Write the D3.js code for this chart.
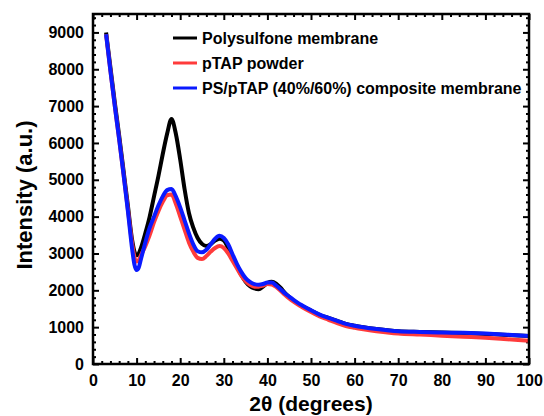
<!DOCTYPE html>
<html>
<head>
<meta charset="utf-8">
<script src="https://cdn.jsdelivr.net/npm/d3@7"></script>
<style>
  body { margin: 0; background: #fff; }
  text { font-family: "Liberation Sans", Arial, sans-serif; font-weight: bold; }
</style>
</head>
<body>
<div id="chart"></div>
<script>
// data
var twoTheta = [3, 4, 5, 6, 7, 8, 9, 9.5, 10, 10.5, 11, 12, 13, 14, 15, 16, 17, 18, 19, 20, 21, 22, 23, 24, 25, 26,
    27, 28, 29, 30, 31, 32, 33, 34, 35, 36, 37, 38, 39, 40, 41, 42, 43, 44, 45, 46, 47, 48, 50, 52, 54, 56, 58,
    60, 62, 65, 68, 70, 75, 80, 85, 90, 95, 100];

var polysulfone = [9000, 8050, 7100, 6200, 5250, 4300, 3350, 3050, 2950, 3000, 3150, 3550, 4000, 4550, 5100, 5700,
    6250, 6650, 6250, 5550, 4750, 4100, 3700, 3420, 3260, 3200, 3250, 3350, 3400, 3350, 3150, 2900, 2650, 2420,
    2230, 2110, 2050, 2030, 2100, 2200, 2230, 2180, 2070, 1930, 1820, 1720, 1640, 1570, 1450, 1330, 1250, 1170,
    1090, 1040, 1000, 950, 910, 890, 870, 855, 840, 815, 790, 760];

var ptapPowder = [8950, 7950, 7000, 6100, 5150, 4200, 3250, 2900, 2780, 2820, 2950, 3200, 3500, 3850, 4150, 4400,
    4580, 4600, 4350, 4000, 3650, 3300, 3050, 2880, 2850, 2930, 3050, 3150, 3200, 3150, 3000, 2800, 2600, 2400,
    2250, 2150, 2100, 2100, 2130, 2170, 2160, 2090, 1990, 1880, 1780, 1690, 1610, 1540, 1410, 1290, 1200, 1110,
    1030, 980, 940, 890, 850, 830, 800, 770, 740, 710, 670, 630];

var composite = [8950, 7950, 7000, 6100, 5150, 4150, 3100, 2700, 2550, 2620, 2850, 3300, 3700, 4000, 4300, 4550,
    4720, 4750, 4550, 4250, 3900, 3550, 3250, 3060, 3030, 3100, 3250, 3400, 3480, 3420, 3250, 2980, 2720, 2500,
    2330, 2230, 2170, 2150, 2170, 2210, 2210, 2130, 2030, 1920, 1830, 1740, 1660, 1590, 1460, 1340, 1250, 1170,
    1090, 1040, 1000, 950, 910, 890, 870, 855, 845, 825, 795, 760];

var seriesNames = ['Polysulfone membrane', 'pTAP powder', 'PS/pTAP (40%/60%) composite membrane'];
var seriesColors = ['#000000', '#ff3b3b', '#0a1aff'];
var xTicks = [0, 10, 20, 30, 40, 50, 60, 70, 80, 90, 100];
var yTicks = [0, 1000, 2000, 3000, 4000, 5000, 6000, 7000, 8000, 9000];

// svg setup
var svgWidth = 544;
var svgHeight = 416;
var margins = { top: 14, right: 15, bottom: 52, left: 93 };
var chartWidth = svgWidth - margins.left - margins.right;
var chartHeight = svgHeight - margins.top - margins.bottom;

var svg = d3.select('#chart')
    .append('svg')
    .attr('width', svgWidth)
    .attr('height', svgHeight);

var chartGroup = svg.append('g')
    .attr('transform', `translate(${margins.left}, ${margins.top})`);

// scales
var xScale = d3.scaleLinear().domain([0, 100]).range([0, chartWidth]);
var yScale = d3.scaleLinear().domain([0, 9500]).range([chartHeight, 0]);

// minor tick values
var xMinor = d3.range(0, 101, 2).filter(d => d % 10 !== 0);
var yMinor = d3.range(0, 9501, 200).filter(d => d % 1000 !== 0);

// ticks point inward, labels bold
function styleAxis(g) {
    g.select('.domain').remove();
    g.selectAll('line').attr('stroke', '#000').attr('stroke-width', 2);
    g.selectAll('text').attr('font-size', 16).attr('fill', '#000');
}

// bottom axis with labels
chartGroup.append('g')
    .attr('transform', `translate(0, ${chartHeight})`)
    .call(d3.axisBottom(xScale).tickValues(xTicks).tickSize(-6).tickPadding(11).tickFormat(d3.format('d')))
    .call(styleAxis);
chartGroup.append('g')
    .attr('transform', `translate(0, ${chartHeight})`)
    .call(d3.axisBottom(xScale).tickValues(xMinor).tickSize(-3).tickFormat(''))
    .call(styleAxis);

// top axis, ticks only
chartGroup.append('g')
    .call(d3.axisTop(xScale).tickValues(xTicks).tickSize(-6).tickFormat(''))
    .call(styleAxis);
chartGroup.append('g')
    .call(d3.axisTop(xScale).tickValues(xMinor).tickSize(-3).tickFormat(''))
    .call(styleAxis);

// left axis with labels
chartGroup.append('g')
    .call(d3.axisLeft(yScale).tickValues(yTicks).tickSize(-6).tickPadding(9).tickFormat(d3.format('d')))
    .call(styleAxis);
chartGroup.append('g')
    .call(d3.axisLeft(yScale).tickValues(yMinor).tickSize(-3).tickFormat(''))
    .call(styleAxis);

// right axis, ticks only
chartGroup.append('g')
    .attr('transform', `translate(${chartWidth}, 0)`)
    .call(d3.axisRight(yScale).tickValues(yTicks).tickSize(-6).tickFormat(''))
    .call(styleAxis);
chartGroup.append('g')
    .attr('transform', `translate(${chartWidth}, 0)`)
    .call(d3.axisRight(yScale).tickValues(yMinor).tickSize(-3).tickFormat(''))
    .call(styleAxis);

// curves
var allSeries = [polysulfone, ptapPowder, composite];
var line = d3.line()
    .x((d, i) => xScale(twoTheta[i]))
    .y(d => yScale(d))
    .curve(d3.curveMonotoneX);

chartGroup.selectAll('.series')
    .data(allSeries)
    .enter()
    .append('path')
    .attr('class', 'series')
    .attr('d', d => line(d))
    .attr('fill', 'none')
    .attr('stroke', (d, i) => seriesColors[i])
    .attr('stroke-width', 4)
    .attr('stroke-linejoin', 'round');

// frame
chartGroup.append('rect')
    .attr('width', chartWidth)
    .attr('height', chartHeight)
    .attr('fill', 'none')
    .attr('stroke', '#000')
    .attr('stroke-width', 2.5);

// legend
var legend = chartGroup.selectAll('.legend')
    .data(seriesNames)
    .enter()
    .append('g')
    .attr('class', 'legend')
    .attr('transform', (d, i) => `translate(80, ${24 + i * 25})`);

legend.append('line')
    .attr('x1', 0)
    .attr('x2', 24)
    .attr('stroke', (d, i) => seriesColors[i])
    .attr('stroke-width', 3);

legend.append('text')
    .attr('x', 29)
    .attr('dy', '0.35em')
    .attr('font-size', 16)
    .text(d => d);

// axis titles
svg.append('text')
    .attr('x', margins.left + chartWidth / 2)
    .attr('y', 411)
    .attr('text-anchor', 'middle')
    .attr('font-size', 21)
    .text('2θ (degrees)');

svg.append('text')
    .attr('transform', `translate(32, ${margins.top + chartHeight / 2 + 6}) rotate(-90)`)
    .attr('text-anchor', 'middle')
    .attr('font-size', 22)
    .text('Intensity (a.u.)');
</script>
</body>
</html>
